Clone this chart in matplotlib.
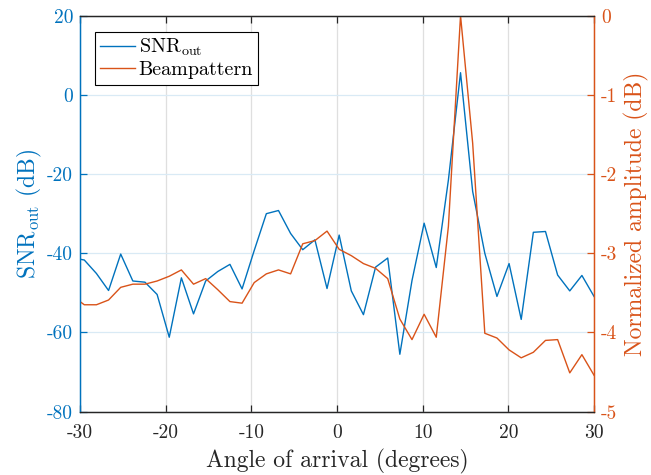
import numpy as np
import matplotlib
matplotlib.use("Agg")
import matplotlib.pyplot as plt
import warnings

warnings.filterwarnings('ignore')
plt.rcParams['font.family'] = 'cmr10'
plt.rcParams['mathtext.fontset'] = 'cm'
plt.rcParams['axes.unicode_minus'] = False
plt.rcParams['axes.formatter.use_mathtext'] = False

# angle grid (degrees)
angles = np.concatenate(([-30.0], np.linspace(-29.5, 30.0, 43)))

# output SNR (dB)
snr_out = [-41.5, -41.7, -45.1, -49.4, -40.2, -47.0, -47.3, -50.4, -61.2, -46.2,
           -55.3, -47.0, -44.6, -42.8, -49.0, -39.3, -30.0, -29.2, -35.0, -39.1,
           -36.6, -48.9, -35.4, -49.5, -55.5, -43.5, -41.2, -65.5, -46.9, -32.4,
           -43.6, -21.5, 5.6, -24.4, -40.0, -50.9, -42.6, -56.7, -34.7, -34.5,
           -45.5, -49.5, -45.6, -50.9]

# normalized beampattern (dB)
beam = [-3.61, -3.65, -3.65, -3.59, -3.43, -3.39, -3.39, -3.35, -3.29, -3.21,
        -3.39, -3.32, -3.46, -3.61, -3.63, -3.37, -3.26, -3.21, -3.26, -2.88,
        -2.84, -2.72, -2.95, -3.03, -3.13, -3.19, -3.32, -3.83, -4.09, -3.77,
        -4.06, -2.66, 0.0, -1.61, -4.01, -4.07, -4.22, -4.32, -4.25, -4.10,
        -4.09, -4.51, -4.28, -4.54]

xticks = [-30, -20, -10, 0, 10, 20, 30]
lticks = [-80, -60, -40, -20, 0, 20]
rticks = [-5, -4, -3, -2, -1, 0]

blue = '#0072BD'
orange = '#D95319'
dark = '#262626'

fig = plt.figure(figsize=(6.51, 4.75), dpi=100)
ax = fig.add_axes([0.1229, 0.1333, 0.7896, 0.8337])
ax2 = ax.twinx()

l1, = ax.plot(angles, snr_out, color=blue, lw=1.0)
l2, = ax2.plot(angles, beam, color=orange, lw=1.0)

ax.set_xlim(-30, 30)
ax.set_ylim(-80, 20)
ax2.set_ylim(-5, 0)
ax.set_xticks(xticks, [str(t) for t in xticks])
ax.set_yticks(lticks, [str(t) for t in lticks])
ax2.set_yticks(rticks, [str(t) for t in rticks])

# grid: vertical gray, horizontal tinted by left axis colour
ax.grid(axis='x', color='#dfdfdf', lw=0.9)
ax.grid(axis='y', color='#d9eaf5', lw=0.9)
ax.set_axisbelow(True)

for a in (ax, ax2):
    for s in a.spines.values():
        s.set_linewidth(0.9)
    a.spines['top'].set_color(dark)
    a.spines['bottom'].set_color(dark)
    a.spines['left'].set_color(blue)
    a.spines['right'].set_color(orange)

ax.tick_params(axis='x', direction='in', length=5, width=0.9, colors=dark,
               labelsize=14, top=True, pad=9)
ax.tick_params(axis='y', direction='in', length=5, width=0.9, colors=blue,
               labelsize=14, right=False, pad=5)
ax2.tick_params(axis='y', direction='in', length=5, width=0.9, colors=orange,
                labelsize=14, pad=5)

ax.set_xlabel('Angle of arrival (degrees)', fontsize=17, color=dark, labelpad=5)
ax.set_ylabel(r'SNR$_{\rm out}$ (dB)', fontsize=17, color=blue, labelpad=2)
ax2.set_ylabel('Normalized amplitude (dB)', fontsize=17, color=orange, labelpad=5)

leg = ax2.legend([l1, l2], [r'SNR$_{\rm out}$', 'Beampattern'], loc='upper left',
                 bbox_to_anchor=(0.029, 0.96), fontsize=14.5, frameon=True,
                 fancybox=False, edgecolor='black', framealpha=1,
                 handlelength=1.7, handletextpad=0.2, borderpad=0.27,
                 labelspacing=0.15, borderaxespad=0)
leg.get_frame().set_linewidth(0.8)

fig.savefig('out.png', dpi=100)
